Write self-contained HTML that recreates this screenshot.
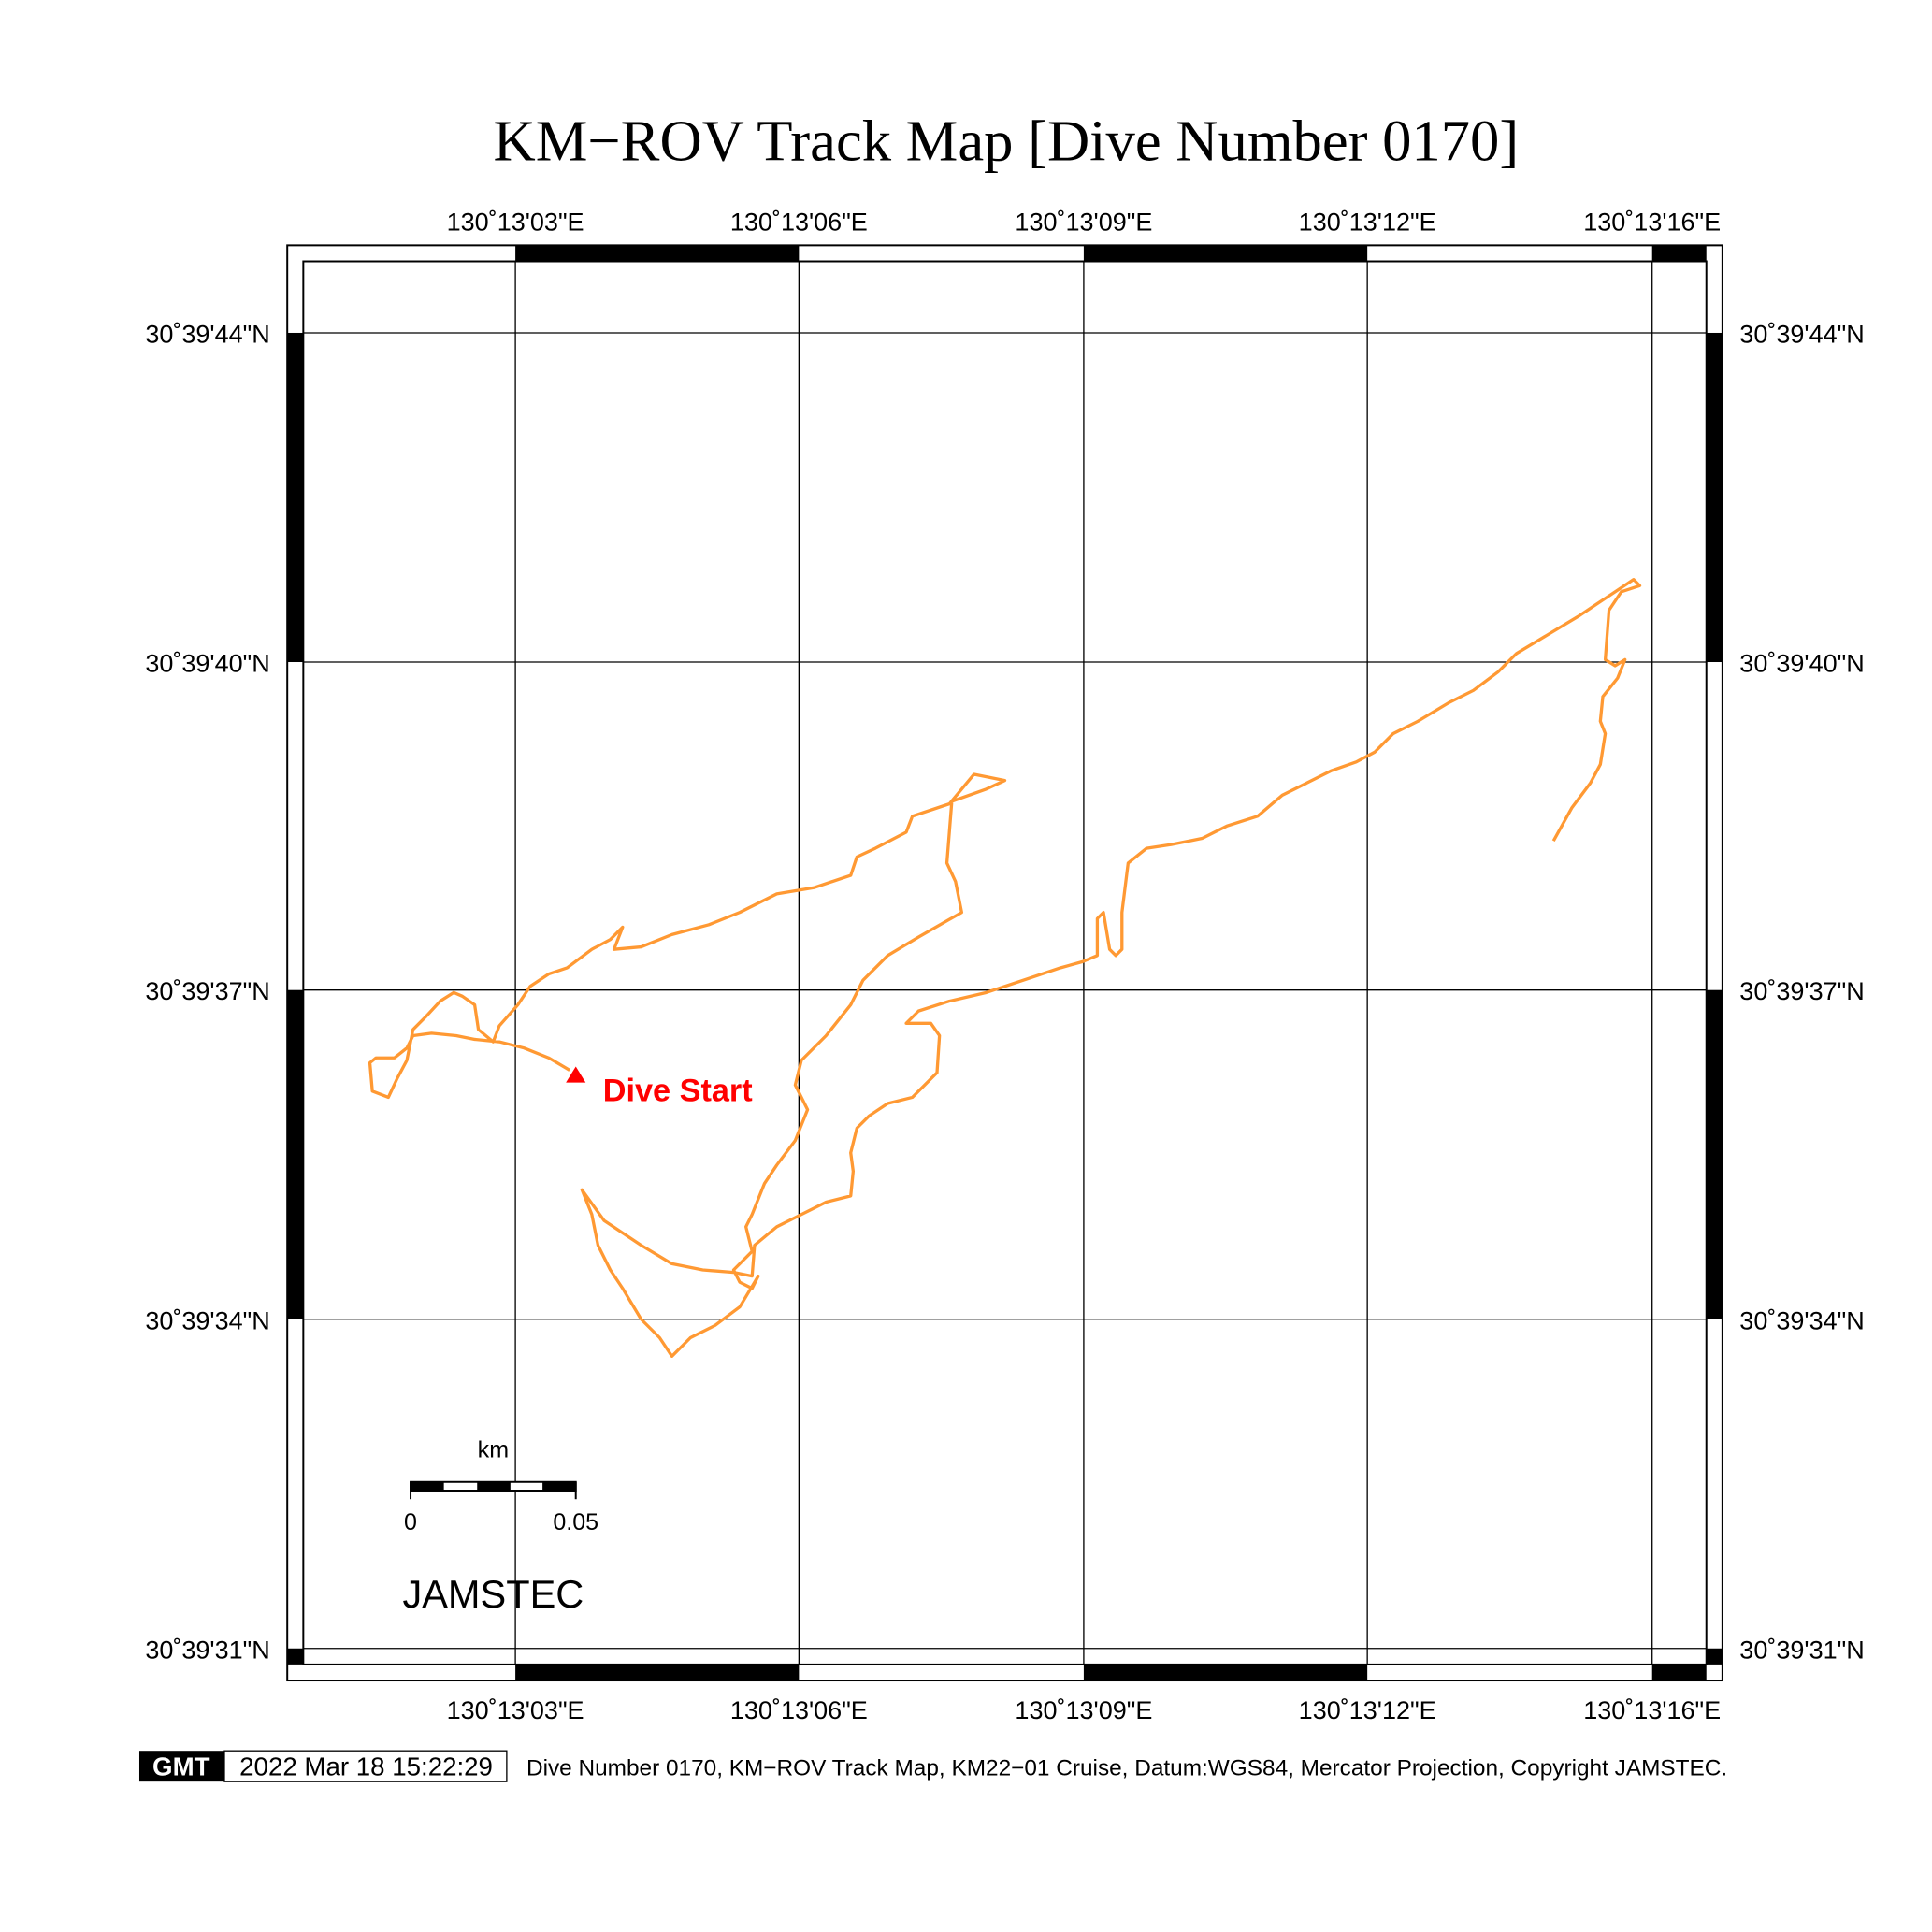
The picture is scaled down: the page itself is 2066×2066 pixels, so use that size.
<!DOCTYPE html>
<html><head><meta charset="utf-8"><style>html,body{margin:0;padding:0;background:#fff}svg{display:block}</style></head><body>
<svg width="2066" height="2066" viewBox="0 0 1567 1567" xmlns="http://www.w3.org/2000/svg" font-family="Liberation Sans, sans-serif">
<rect width="1567" height="1567" fill="#fff"/>
<text x="816" y="130" font-family="Liberation Serif, serif" font-size="47.5" text-anchor="middle">KM−ROV Track Map [Dive Number 0170]</text>
<g stroke="#000" stroke-width="1">
<line x1="418" y1="212" x2="418" y2="1350"/><line x1="648" y1="212" x2="648" y2="1350"/><line x1="879" y1="212" x2="879" y2="1350"/><line x1="1109" y1="212" x2="1109" y2="1350"/><line x1="1340" y1="212" x2="1340" y2="1350"/>
<line x1="246" y1="270" x2="1384" y2="270"/><line x1="246" y1="537" x2="1384" y2="537"/><line x1="246" y1="803" x2="1384" y2="803"/><line x1="246" y1="1070" x2="1384" y2="1070"/><line x1="246" y1="1337" x2="1384" y2="1337"/>
</g>
<g fill="#000">
<rect x="418" y="199" width="230" height="13"/><rect x="879" y="199" width="230" height="13"/><rect x="1340" y="199" width="44" height="13"/>
<rect x="418" y="1350" width="230" height="13"/><rect x="879" y="1350" width="230" height="13"/><rect x="1340" y="1350" width="44" height="13"/>
<rect x="233" y="270" width="13" height="267"/><rect x="233" y="803" width="13" height="267"/><rect x="233" y="1337" width="13" height="13"/>
<rect x="1384" y="270" width="13" height="267"/><rect x="1384" y="803" width="13" height="267"/><rect x="1384" y="1337" width="13" height="13"/>
</g>
<g fill="none" stroke="#000" stroke-width="1.5">
<rect x="233" y="199" width="1164" height="1164"/><rect x="246" y="212" width="1138" height="1138"/>
</g>
<g font-size="20.5" text-anchor="middle">
<text x="418" y="187">130˚13'03"E</text><text x="648" y="187">130˚13'06"E</text><text x="879" y="187">130˚13'09"E</text><text x="1109" y="187">130˚13'12"E</text><text x="1340" y="187">130˚13'16"E</text>
<text x="418" y="1394">130˚13'03"E</text><text x="648" y="1394">130˚13'06"E</text><text x="879" y="1394">130˚13'09"E</text><text x="1109" y="1394">130˚13'12"E</text><text x="1340" y="1394">130˚13'16"E</text>
</g>
<g font-size="20.5" text-anchor="end">
<text x="219" y="278">30˚39'44"N</text><text x="219" y="545">30˚39'40"N</text><text x="219" y="811">30˚39'37"N</text><text x="219" y="1078">30˚39'34"N</text><text x="219" y="1345">30˚39'31"N</text>
</g>
<g font-size="20.5">
<text x="1411" y="278">30˚39'44"N</text><text x="1411" y="545">30˚39'40"N</text><text x="1411" y="811">30˚39'37"N</text><text x="1411" y="1078">30˚39'34"N</text><text x="1411" y="1345">30˚39'31"N</text>
</g>
<polyline fill="none" stroke="#ff9933" stroke-width="2.5" stroke-linejoin="round" points="462,868 445,858 425,850 405,845 385,843 370,840 350,838 335,840 330,850 320,858 305,858 300,862 302,885 315,890 322,875 330,860 335,835 345,825 357,812 368,805 375,808 385,815 388,835 400,845 405,832 420,815 430,800 445,790 460,785 480,770 495,762 505,752 498,770 520,768 545,758 575,750 600,740 630,725 660,720 690,710 695,695 710,688 735,675 740,662 770,652 780,640 790,628 800,630 815,633 800,640 772,650 768,700 775,715 780,740 745,760 720,775 700,795 690,815 670,840 650,860 645,880 655,900 645,925 630,945 620,960 610,985 605,995 610,1015 595,1030 600,1040 610,1045 615,1035 600,1060 580,1075 560,1085 545,1100 535,1085 520,1070 505,1045 495,1030 485,1010 480,985 472,965 490,990 520,1010 545,1025 570,1030 595,1032 610,1035 612,1010 630,995 650,985 670,975 690,970 692,950 690,935 695,915 705,905 720,895 740,890 760,870 762,840 755,830 735,830 745,820 770,812 800,805 830,795 860,785 878,780 890,775 890,745 895,740 900,770 905,775 910,770 910,740 915,700 930,688 950,685 975,680 995,670 1020,662 1040,645 1060,635 1080,625 1100,618 1115,610 1130,595 1150,585 1175,570 1195,560 1215,545 1230,530 1255,515 1280,500 1295,490 1310,480 1325,470 1330,475 1315,480 1305,495 1302,535 1310,540 1318,535 1312,550 1300,565 1298,585 1302,595 1298,620 1290,635 1275,655 1260,682"/>
<polygon points="467,865 459,878 475,878" fill="#ff0000"/>
<text x="489" y="893" font-size="26" font-weight="bold" fill="#ff0000">Dive Start</text>
<text x="400" y="1182" font-size="19" text-anchor="middle">km</text>
<rect x="333" y="1202" width="134" height="7" fill="#fff" stroke="#000" stroke-width="1.5"/>
<g fill="#000"><rect x="333" y="1202" width="27" height="7"/><rect x="387" y="1202" width="27" height="7"/><rect x="440" y="1202" width="27" height="7"/></g>
<g stroke="#000" stroke-width="1.5"><line x1="333" y1="1202" x2="333" y2="1216"/><line x1="467" y1="1202" x2="467" y2="1216"/></g>
<text x="333" y="1241" font-size="19" text-anchor="middle">0</text>
<text x="467" y="1241" font-size="19" text-anchor="middle">0.05</text>
<text x="400" y="1304" font-size="31.5" text-anchor="middle">JAMSTEC</text>
<rect x="113" y="1420" width="69" height="25" fill="#000"/>
<text x="147" y="1440" font-size="21" fill="#fff" text-anchor="middle" font-weight="bold">GMT</text>
<rect x="182" y="1420" width="229" height="25" fill="#fff" stroke="#000" stroke-width="1"/>
<text x="297" y="1440" font-size="21" text-anchor="middle">2022 Mar 18 15:22:29</text>
<text x="427" y="1440" font-size="18.5">Dive Number 0170, KM−ROV Track Map, KM22−01 Cruise, Datum:WGS84, Mercator Projection, Copyright JAMSTEC.</text>
</svg>
</body></html>
